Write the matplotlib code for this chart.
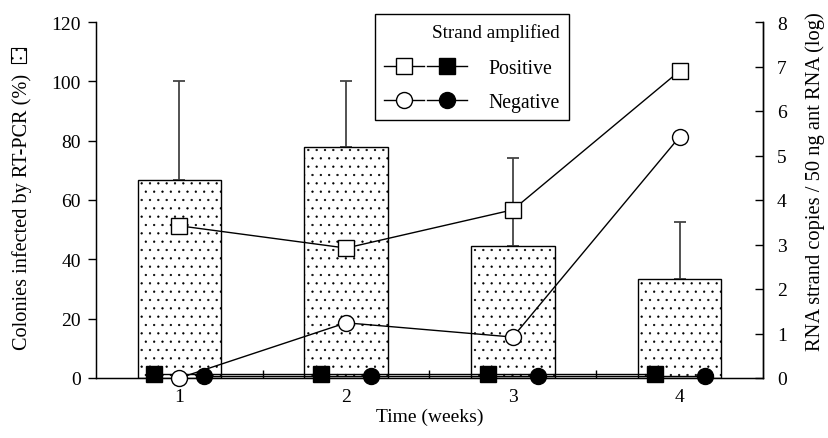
import matplotlib.pyplot as plt
from matplotlib.lines import Line2D
from matplotlib.patches import Rectangle
from matplotlib.legend_handler import HandlerTuple
import numpy as np

# data
weeks = [1, 2, 3, 4]
infected = [66.7, 77.8, 44.4, 33.3]      # % colonies infected (bars, left axis)
infected_err = [33.3, 22.2, 29.6, 19.4]  # upper error only
pos_open = [3.42, 2.92, 3.78, 6.90]      # positive strand, open squares (log)
neg_open = [0.00, 1.24, 0.92, 5.42]      # negative strand, open circles (log)
pos_filled = [0.10, 0.10, 0.10, 0.10]    # positive strand, filled squares
neg_filled = [0.05, 0.05, 0.05, 0.05]    # negative strand, filled circles

plt.rcParams['font.family'] = ['Liberation Serif', 'DejaVu Serif']
plt.rcParams['font.size'] = 14
plt.rcParams['hatch.linewidth'] = 0.4

fig = plt.figure(figsize=(8.29, 4.39), dpi=100)
ax = fig.add_axes([96/829, 60/439, 667/829, 356/439])

x = np.array(weeks, dtype=float)

# bars with dotted fill
ax.bar(x, infected, width=0.5, color='white', edgecolor='black',
       linewidth=1.0, hatch='..', zorder=2)
ax.errorbar(x, infected, yerr=[np.zeros(len(x)), infected_err], fmt='none',
            ecolor='#444444', elinewidth=1.3, capsize=4, capthick=1.3, zorder=1)

ax.set_xlim(0.5, 4.5)
ax.set_ylim(0, 120)
ax.set_yticks(np.arange(0, 121, 20))
ax.set_xticks(weeks)
ax.set_xticks([1.5, 2.5, 3.5], minor=True)
ax.tick_params(axis='x', which='major', length=0, pad=7)
ax.tick_params(axis='x', which='minor', direction='in', length=6, width=1)
ax.tick_params(axis='y', direction='out', length=6, width=1, pad=5)
ax.spines['top'].set_visible(False)
for s in ['left', 'bottom', 'right']:
    ax.spines[s].set_linewidth(1.0)
ax.set_xlabel('Time (weeks)', labelpad=2)

# right axis, log copies
ax2 = ax.twinx()
ax2.set_ylim(0, 8)
ax2.set_yticks(range(0, 9))
ax2.tick_params(axis='y', direction='in', length=6, width=1, pad=10)
ax2.spines['top'].set_visible(False)
ax2.spines['right'].set_linewidth(1.0)
fig.text(815/829, 1 - 182/439, 'RNA strand copies / 50 ng ant RNA (log)',
         rotation=90, ha='center', va='center', fontsize=14.8)

mk = dict(color='black', linewidth=1.0, markersize=11.5, markeredgewidth=1.0,
          clip_on=False)
ax2.plot(x - 0.15, pos_filled, marker='s', markerfacecolor='black', zorder=3, **mk)
ax2.plot(x + 0.15, neg_filled, marker='o', markerfacecolor='black', zorder=3, **mk)
ax2.plot(x, pos_open, marker='s', markerfacecolor='white', zorder=4, **mk)
ax2.plot(x, neg_open, marker='o', markerfacecolor='white', zorder=4, **mk)

# legend
h_os = Line2D([], [], marker='s', markerfacecolor='white', **mk)
h_fs = Line2D([], [], marker='s', markerfacecolor='black', **mk)
h_oc = Line2D([], [], marker='o', markerfacecolor='white', **mk)
h_fc = Line2D([], [], marker='o', markerfacecolor='black', **mk)
leg = ax2.legend([(h_os, h_fs), (h_oc, h_fc)], ['Positive', 'Negative'],
                 handler_map={tuple: HandlerTuple(ndivide=None, pad=0.15)},
                 title='Strand amplified', loc='upper left',
                 bbox_to_anchor=(279/667, 1 + 8/356), borderaxespad=0,
                 handlelength=4.2, handletextpad=1.1, fancybox=False,
                 framealpha=1, edgecolor='black', borderpad=0.45,
                 labelspacing=0.75, fontsize=14.2, title_fontsize=13.8,
                 alignment='right')
leg.get_frame().set_linewidth(1.0)
leg._legend_box.sep = 13
leg.set_zorder(10)

# left label with a small dotted key box
fig.text(22/829, 1 - 212/439, 'Colonies infected by RT-PCR (%)', rotation=90,
         ha='center', va='center', fontsize=14.6)
fig.patches.append(Rectangle((11/829, 1 - 64/439), 15/829, 15/439,
                             transform=fig.transFigure, facecolor='white',
                             edgecolor='black', linewidth=0.8, hatch='..'))

fig.savefig('out.png', dpi=100)
